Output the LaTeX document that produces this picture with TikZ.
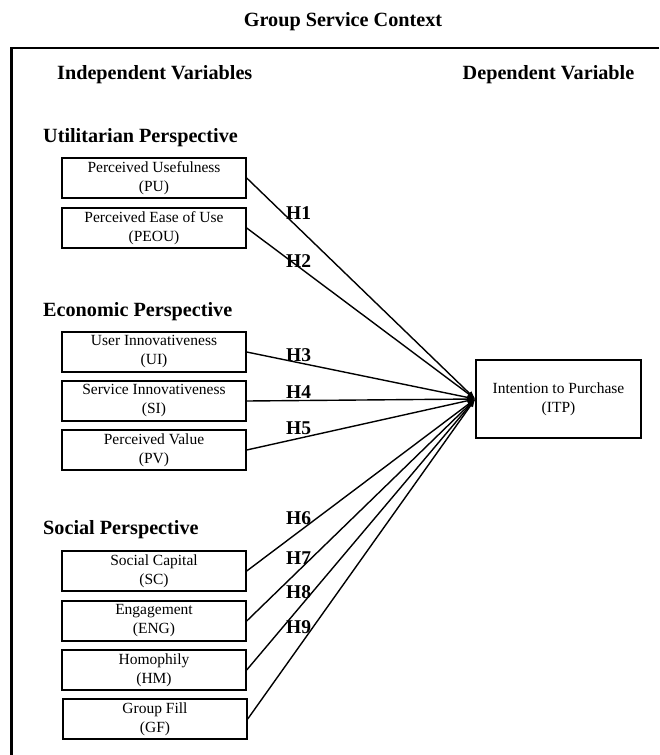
\documentclass[tikz,border=0pt]{standalone}
\usepackage{fontspec}
\setmainfont{Liberation Serif}
\usetikzlibrary{arrows.meta}
\begin{document}
\begin{tikzpicture}[x=1pt,y=-1pt,
  varbox/.style={draw,line width=1.4pt,minimum width=184pt,minimum height=40pt,inner sep=0pt,align=center,font=\fontsize{15.5}{19}\selectfont},
  head/.style={font=\bfseries\fontsize{20.2}{24}\selectfont,inner sep=0pt},
  hyp/.style={font=\bfseries\fontsize{19.5}{22}\selectfont,inner sep=0pt,anchor=west},
  link/.style={line width=1.4pt,-{Latex[length=8pt,width=6pt]}}]
\useasboundingbox (0,0) rectangle (659,755);
% frame
\draw[line width=2.2pt] (659,48) -- (11.5,48) -- (11.5,755);
% headings
\node[head] (title) at (343,22) {Group Service Context};
\node[head,anchor=west] (indep) at (57,75) {Independent Variables};
\node[head] (dep) at (548.5,75) {Dependent Variable};
\node[head,anchor=west] (util) at (43,138) {Utilitarian Perspective};
\node[head,anchor=west] (econ) at (43,312) {Economic Perspective};
\node[head,anchor=west] (soc) at (43,530) {Social Perspective};
% boxes
\node[varbox] (pu) at (154,178) {Perceived Usefulness\\(PU)};
\node[varbox] (peou) at (154,228) {Perceived Ease of Use\\(PEOU)};
\node[varbox] (ui) at (154,352) {User Innovativeness\\(UI)};
\node[varbox] (si) at (154,401) {Service Innovativeness\\(SI)};
\node[varbox] (pv) at (154,450) {Perceived Value\\(PV)};
\node[varbox] (sc) at (154,571) {Social Capital\\(SC)};
\node[varbox] (eng) at (154,621) {Engagement\\(ENG)};
\node[varbox] (hm) at (154,670) {Homophily\\(HM)};
\node[varbox] (gf) at (155,719) {Group Fill\\(GF)};
\node[varbox,minimum width=165pt,minimum height=78pt] (itp) at (558.5,399) {Intention to Purchase\\(ITP)};
% connectors
\foreach \s in {pu,peou,ui,si,pv,sc,eng,hm,gf}
  \draw[link] (\s.east) -- (itp.west);
% hypothesis labels
\node[hyp] (h1) at (286,213) {H1};
\node[hyp] (h2) at (286,261) {H2};
\node[hyp] (h3) at (286,355) {H3};
\node[hyp] (h4) at (286,392) {H4};
\node[hyp] (h5) at (286,428) {H5};
\node[hyp] (h6) at (286,518) {H6};
\node[hyp] (h7) at (286,558) {H7};
\node[hyp] (h8) at (286,592) {H8};
\node[hyp] (h9) at (286,627) {H9};
\end{tikzpicture}
\end{document}
